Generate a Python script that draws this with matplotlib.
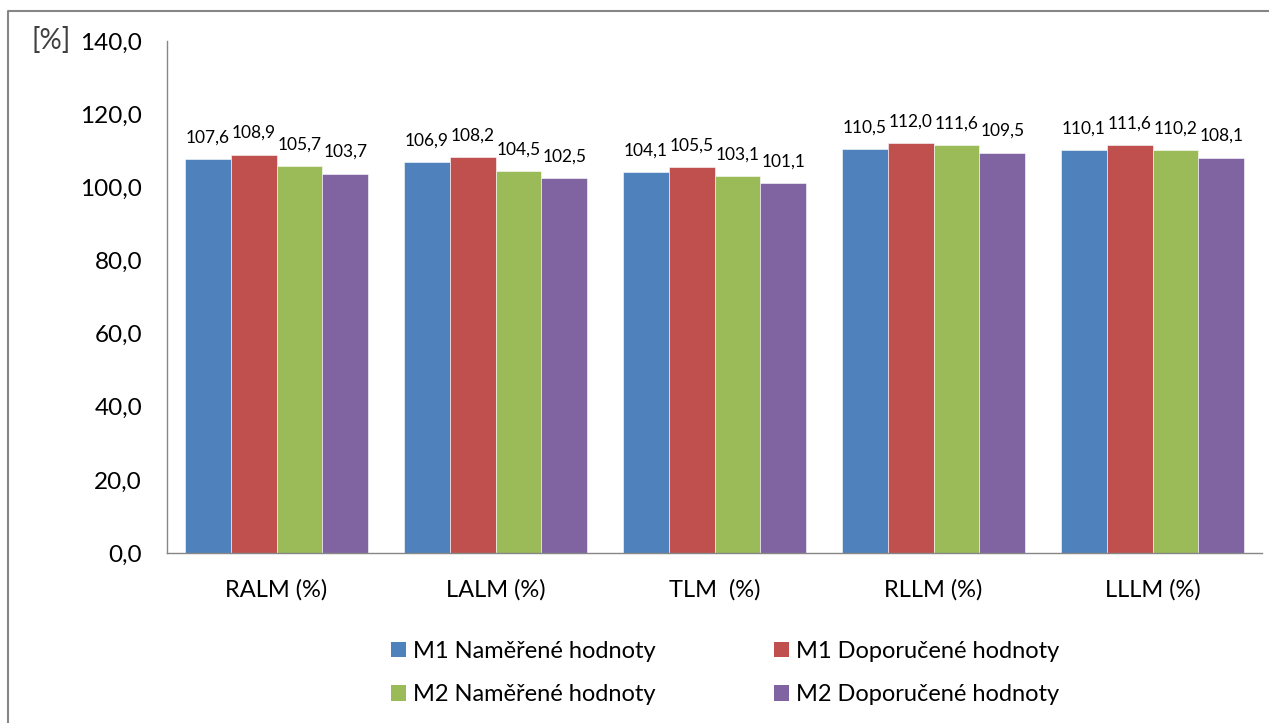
import numpy as np
import matplotlib.pyplot as plt
from matplotlib.lines import Line2D
from matplotlib.patches import Patch

plt.rcParams['font.family'] = ['Lato', 'DejaVu Sans']

categories = ['RALM (%)', 'LALM (%)', 'TLM  (%)', 'RLLM (%)', 'LLLM (%)']
series_names = ['M1 Naměřené hodnoty', 'M1 Doporučené hodnoty',
                'M2 Naměřené hodnoty', 'M2 Doporučené hodnoty']
m1_measured = [107.6, 106.9, 104.1, 110.5, 110.1]
m1_recommended = [108.9, 108.2, 105.5, 112.0, 111.6]
m2_measured = [105.7, 104.5, 103.1, 111.6, 110.2]
m2_recommended = [103.7, 102.5, 101.1, 109.5, 108.1]
y_ticks = [0, 20, 40, 60, 80, 100, 120, 140]

colors = ['#4F81BD', '#C0504D', '#9BBB59', '#8064A2']
series = [m1_measured, m1_recommended, m2_measured, m2_recommended]


def cz(v):
    # decimal comma
    return f'{v:.1f}'.replace('.', ',')


W, H = 1269, 723
fig = plt.figure(figsize=(W / 100, H / 100), dpi=100)
ax = fig.add_axes([167 / W, 1 - 553 / H, 1095 / W, 512 / H])

x = np.arange(len(categories))
bw = 0.21
for i, (vals, c) in enumerate(zip(series, colors)):
    pos = x + (i - 1.5) * bw
    ax.bar(pos, vals, width=bw, color=c, edgecolor='white', linewidth=0.4)
    for px, v in zip(pos, vals):
        ax.annotate(cz(v), (px, v), xytext=(0, 12),
                    textcoords='offset points', ha='center', va='baseline',
                    fontsize=12.5, color='black')

ax.set_xlim(-0.5, len(categories) - 0.5)
ax.set_ylim(0, 140)
ax.set_yticks(y_ticks)
ax.set_yticklabels([cz(t) for t in y_ticks])
ax.set_xticks(x)
ax.set_xticklabels(categories)
ax.tick_params(axis='y', length=0, pad=18, labelsize=17.5)
ax.tick_params(axis='x', length=0, pad=19, labelsize=17)
for s in ['top', 'right']:
    ax.spines[s].set_visible(False)
for s in ['left', 'bottom']:
    ax.spines[s].set_color('#868686')
    ax.spines[s].set_linewidth(1.0)

fig.text(31 / W, 1 - 49 / H, '[%]', fontsize=20, color='#404040',
         ha='left', va='baseline')

# legend: two rows, two columns
order = [0, 2, 1, 3]
handles = [Patch(facecolor=colors[i], edgecolor='none') for i in order]
labels = [series_names[i] for i in order]
fig.legend(handles, labels, ncol=2, loc='center left',
           bbox_to_anchor=(391 / W, 1 - 673 / H), frameon=False,
           fontsize=17, handlelength=0.63, handleheight=0.63,
           handletextpad=0.3, columnspacing=5.0, labelspacing=0.95,
           borderpad=0, borderaxespad=0)

# outer chart frame (left and top edges)
fig.add_artist(Line2D([8 / W, 8 / W, 1], [0, 1 - 11 / H, 1 - 11 / H],
                      transform=fig.transFigure, color='#868686', lw=1.5))

fig.savefig('out.png', dpi=100)
